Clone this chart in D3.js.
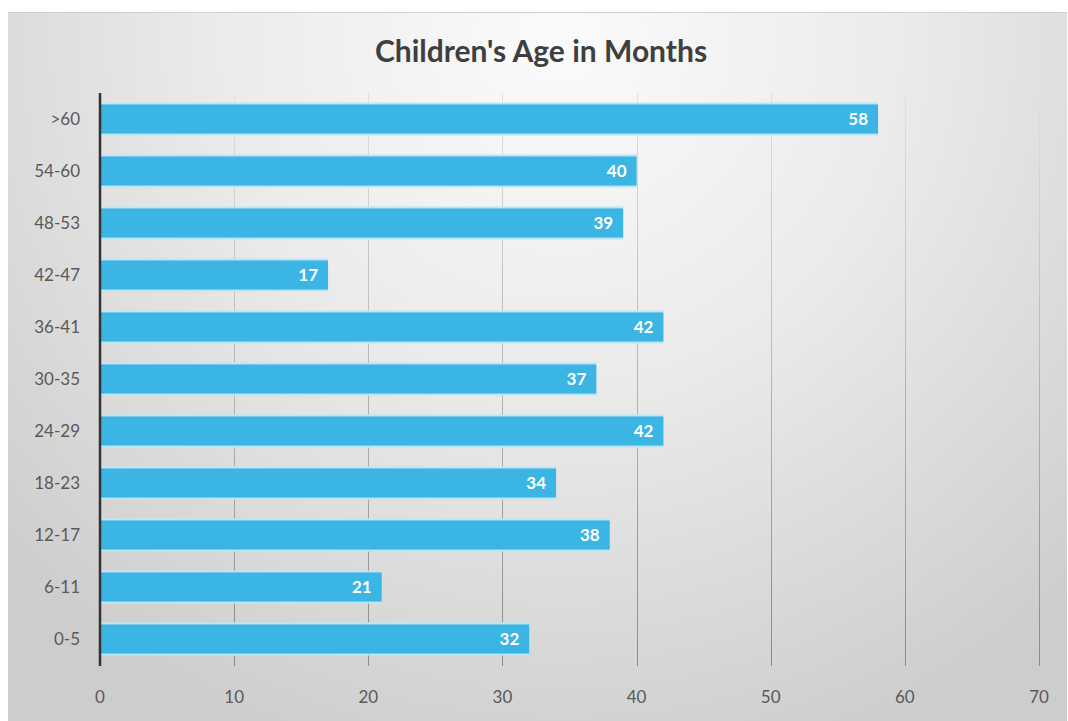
<!DOCTYPE html>
<html><head><meta charset="utf-8">
<script src="https://cdn.jsdelivr.net/npm/d3@7"></script>
<style>body{margin:0;background:#fff;}svg{display:block;}</style>
</head><body>
<script>
const categories = [">60","54-60","48-53","42-47","36-41","30-35","24-29","18-23","12-17","6-11","0-5"];
const values = [58,40,39,17,42,37,42,34,38,21,32];
const xTicks = [0,10,20,30,40,50,60,70];
const title = "Children's Age in Months";

const W = 1068, H = 721;
const svg = d3.select("body").append("svg").attr("width", W).attr("height", H);
const defs = svg.append("defs");
const bg = defs.append("radialGradient").attr("id","bg")
  .attr("gradientUnits","userSpaceOnUse").attr("cx",560).attr("cy",40).attr("r",760);
bg.append("stop").attr("offset","0%").attr("stop-color","#fbfbfb");
bg.append("stop").attr("offset","45%").attr("stop-color","#ebebeb");
bg.append("stop").attr("offset","100%").attr("stop-color","#cdcdcd");
const gg = defs.append("linearGradient").attr("id","grid")
  .attr("gradientUnits","userSpaceOnUse").attr("x1",0).attr("y1",93).attr("x2",0).attr("y2",666);
gg.append("stop").attr("offset","0%").attr("stop-color","#e0e0e0");
gg.append("stop").attr("offset","100%").attr("stop-color","#8a8a8a");

svg.append("rect").attr("x",8).attr("y",12).attr("width",1059).attr("height",709).attr("fill","url(#bg)");
svg.append("line").attr("x1",8).attr("x2",1067).attr("y1",12.5).attr("y2",12.5).attr("stroke","#d0d0d0");

const x = d3.scaleLinear().domain([0,70]).range([100,1039]);
const y = d3.scaleBand().domain(categories).range([93,665]).paddingInner(0.44).paddingOuter(0.22);

// gridlines
svg.append("g").selectAll("line").data(xTicks.slice(1)).join("line")
  .attr("x1",d=>Math.round(x(d))+0.5).attr("x2",d=>Math.round(x(d))+0.5)
  .attr("y1",93).attr("y2",666).attr("stroke","url(#grid)").attr("stroke-width",1);

// bars
const bars = svg.append("g");
bars.selectAll("rect.edge").data(values).join("rect").attr("class","edge")
  .attr("x",x(0)).attr("y",(d,i)=>y(categories[i])-2)
  .attr("width",d=>x(d)-x(0)).attr("height",y.bandwidth()+4).attr("fill","#bfe6f5");
bars.selectAll("rect.bar").data(values).join("rect").attr("class","bar")
  .attr("x",x(0)).attr("y",(d,i)=>y(categories[i]))
  .attr("width",d=>x(d)-x(0)).attr("height",y.bandwidth()).attr("fill","#3bb5e3");

bars.selectAll("text").data(values).join("text")
  .attr("x",d=>x(d)-10).attr("y",(d,i)=>y(categories[i])+y.bandwidth()/2)
  .attr("dy","0.36em").attr("text-anchor","end")
  .attr("font-family","Lato, 'Open Sans', sans-serif").attr("font-weight","bold").attr("font-size",17)
  .attr("fill","#ffffff").text(d=>d);

// axis line
svg.append("line").attr("x1",100).attr("x2",100).attr("y1",93).attr("y2",666)
  .attr("stroke","#333").attr("stroke-width",2.5);

// y labels
svg.append("g").selectAll("text").data(categories).join("text")
  .attr("x",80).attr("y",d=>y(d)+y.bandwidth()/2).attr("dy","0.36em").attr("text-anchor","end")
  .attr("font-family","Lato, 'Open Sans', sans-serif").attr("font-size",17).attr("fill","#595959").text(d=>d);

// x labels
svg.append("g").selectAll("text").data(xTicks).join("text")
  .attr("x",d=>x(d)).attr("y",697).attr("dy","0.36em").attr("text-anchor","middle")
  .attr("font-family","Lato, 'Open Sans', sans-serif").attr("font-size",17).attr("fill","#595959").text(d=>d);

svg.append("text").attr("x",541).attr("y",51).attr("dy","0.36em").attr("text-anchor","middle")
  .attr("font-family","Lato, 'Open Sans', sans-serif").attr("font-weight","bold").attr("font-size",30)
  .attr("fill","#3f3f3f").text(title);
</script>
</body></html>
